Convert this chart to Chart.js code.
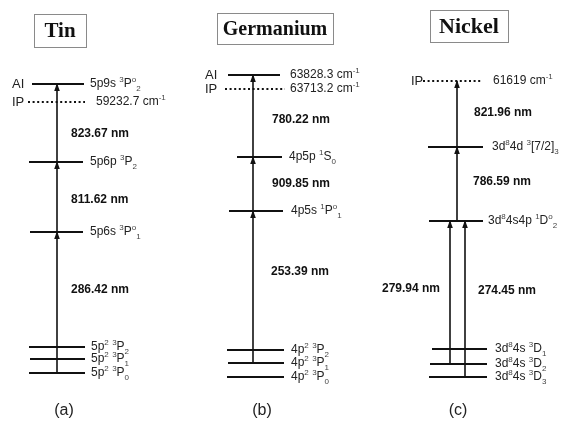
<!DOCTYPE html>
<html>
<head>
<meta charset="utf-8">
<script src="https://cdn.jsdelivr.net/npm/chart.js@4/dist/chart.umd.min.js"></script>
<style>
  html, body { margin: 0; padding: 0; background: #fff; }
  canvas { display: block; }
</style>
</head>
<body>
<canvas id="diagram" width="561" height="422"></canvas>
<script>
// ---- Energy level data (schematic heights, ground states near 0) ----
// Markup: ^{..} superscript, _{..} subscript
const tinLevels   = ['5p^{2} ^{3}P_{0}', '5p^{2} ^{3}P_{1}', '5p^{2} ^{3}P_{2}', '5p6s ^{3}P^{o}_{1}', '5p6p ^{3}P_{2}', '59232.7 cm^{-1}', '5p9s ^{3}P^{o}_{2}'];
const tinHeights  = [4, 18, 30, 145, 215, 275, 293];
const tinTags     = ['', '', '', '', '', 'IP', 'AI'];
const tinTransitions = [[0, 3], [3, 4], [4, 6]];
const tinWavelengths = [286.42, 811.62, 823.67];

const geLevels    = ['4p^{2} ^{3}P_{0}', '4p^{2} ^{3}P_{1}', '4p^{2} ^{3}P_{2}', '4p5s ^{1}P^{o}_{1}', '4p5p ^{1}S_{0}', '63713.2 cm^{-1}', '63828.3 cm^{-1}'];
const geHeights   = [0, 14, 27, 166, 220, 288, 302];
const geTags      = ['', '', '', '', '', 'IP', 'AI'];
const geTransitions = [[1, 3], [3, 4], [4, 6]];
const geWavelengths = [253.39, 909.85, 780.22];

const niLevels    = ['3d^{8}4s ^{3}D_{3}', '3d^{8}4s ^{3}D_{2}', '3d^{8}4s ^{3}D_{1}', '3d^{8}4s4p ^{1}D^{o}_{2}', '3d^{8}4d ^{3}[7/2]_{3}', '61619 cm^{-1}'];
const niHeights   = [0, 13, 28, 156, 230, 296];
const niTags      = ['', '', '', '', '', 'IP'];
const niTransitions = [[1, 3], [0, 3], [3, 4], [4, 5]];
const niWavelengths = [279.94, 274.45, 786.59, 821.96];

const elementNames = ['Tin', 'Germanium', 'Nickel'];
const panelLetters = ['(a)', '(b)', '(c)'];

// ---- Layout of each panel (diagram x units, label anchors) ----
const layouts = [
  {
    span: [[29, 85], [30, 85], [29, 85], [30, 83], [29, 83], [28, 85], [32, 84]],
    labelX: [91, 91, 91, 90, 90, 96, 90],
    tagX: 12,
    arrowX: [57, 57, 57],
    nmAt: [[71, 87, 'left'], [71, 177, 'left'], [71, 243, 'left']],
    title: { x: 60, y: 346.5, w: 52, h: 33, size: 21 },
    letter: { x: 64, y: -34 }
  },
  {
    span: [[227, 284], [228, 284], [227, 284], [229, 283], [237, 282], [225, 285], [228, 280]],
    labelX: [291, 291, 291, 291, 289, 290, 290],
    tagX: 205,
    arrowX: [253, 253, 253],
    nmAt: [[271, 105, 'left'], [272, 193, 'left'], [272, 257, 'left']],
    title: { x: 275, y: 348.5, w: 116, h: 31, size: 20 },
    letter: { x: 262, y: -34 }
  },
  {
    span: [[429, 487], [430, 487], [432, 487], [429, 483], [428, 483], [423, 482]],
    labelX: [495, 495, 495, 488, 492, 493],
    tagX: 411,
    arrowX: [450, 465, 457, 457],
    nmAt: [[440, 88, 'right'], [478, 86, 'left'], [473, 195, 'left'], [474, 264, 'left']],
    title: { x: 469, y: 351, w: 78, h: 32, size: 22 },
    letter: { x: 458, y: -34 }
  }
];

const panels = [
  { levels: tinLevels, heights: tinHeights, tags: tinTags, transitions: tinTransitions, wavelengths: tinWavelengths },
  { levels: geLevels,  heights: geHeights,  tags: geTags,  transitions: geTransitions,  wavelengths: geWavelengths },
  { levels: niLevels,  heights: niHeights,  tags: niTags,  transitions: niTransitions,  wavelengths: niWavelengths }
];

const INK = '#111';
const SANS = '"Liberation Sans", Arial, Helvetica, sans-serif';
const SERIF = '"Liberation Serif", "Times New Roman", serif';

// ---- Build datasets: level bars and transition shafts ----
const datasets = [];
panels.forEach((p, pi) => {
  const L = layouts[pi];
  p.heights.forEach((h, li) => {
    const dotted = p.tags[li] === 'IP';
    datasets.push({
      data: [{ x: L.span[li][0], y: h }, { x: L.span[li][1], y: h }],
      borderColor: INK,
      borderWidth: 2,
      borderDash: dotted ? [2, 2.6] : [],
      borderCapStyle: 'butt',
      pointRadius: 0,
      showLine: true,
      fill: false
    });
  });
  p.transitions.forEach((t, ti) => {
    datasets.push({
      data: [{ x: L.arrowX[ti], y: p.heights[t[0]] }, { x: L.arrowX[ti], y: p.heights[t[1]] }],
      borderColor: INK,
      borderWidth: 1.6,
      pointRadius: 0,
      showLine: true,
      fill: false
    });
  });
});

// ---- Rich text with super/subscripts ----
function parseRich(str) {
  const parts = [];
  let i = 0;
  while (i < str.length) {
    if ((str[i] === '^' || str[i] === '_') && str[i + 1] === '{') {
      const end = str.indexOf('}', i);
      parts.push({ t: str.slice(i + 2, end), m: str[i] });
      i = end + 1;
    } else {
      let j = i;
      while (j < str.length && !((str[j] === '^' || str[j] === '_') && str[j + 1] === '{')) j++;
      parts.push({ t: str.slice(i, j), m: '' });
      i = j;
    }
  }
  return parts;
}

function drawRich(ctx, str, x, y, size, align, weight) {
  const parts = parseRich(str);
  const small = Math.round(size * 0.66);
  const fontFor = m => `${weight || 'normal'} ${m ? small : size}px ${SANS}`;
  let total = 0;
  parts.forEach(pt => { ctx.font = fontFor(pt.m); pt.w = ctx.measureText(pt.t).width; total += pt.w; });
  let cx = align === 'right' ? x - total : align === 'center' ? x - total / 2 : x;
  ctx.textAlign = 'left';
  ctx.textBaseline = 'middle';
  parts.forEach(pt => {
    ctx.font = fontFor(pt.m);
    let dy = 0;
    if (pt.m === '^') dy = -size * 0.32;
    if (pt.m === '_') dy = size * 0.36;
    ctx.fillStyle = pt.m ? '#444' : '#222';
    ctx.fillText(pt.t, cx, y + dy);
    cx += pt.w;
  });
}

// ---- Annotations: arrowheads, labels, titles ----
const annotations = {
  id: 'levelAnnotations',
  afterDatasetsDraw(chart) {
    const ctx = chart.ctx;
    const xs = chart.scales.x, ys = chart.scales.y;
    const px = v => xs.getPixelForValue(v);
    const py = v => ys.getPixelForValue(v);
    ctx.save();
    panels.forEach((p, pi) => {
      const L = layouts[pi];
      // arrowheads at the upper level of every transition
      p.transitions.forEach((t, ti) => {
        const ax = px(L.arrowX[ti]);
        const tip = py(p.heights[t[1]]) - 1;
        ctx.fillStyle = INK;
        ctx.beginPath();
        ctx.moveTo(ax, tip);
        ctx.lineTo(ax - 2.8, tip + 8);
        ctx.lineTo(ax + 2.8, tip + 8);
        ctx.closePath();
        ctx.fill();
      });
      // level labels and left-hand tags
      p.levels.forEach((lab, li) => {
        const y = py(p.heights[li]);
        drawRich(ctx, lab, px(L.labelX[li]), y, 12, 'left');
        if (p.tags[li]) {
          ctx.font = `13px ${SANS}`;
          ctx.fillStyle = '#222';
          ctx.textAlign = 'left';
          ctx.textBaseline = 'middle';
          ctx.fillText(p.tags[li], px(L.tagX), y);
        }
      });
      // wavelength labels
      p.wavelengths.forEach((w, wi) => {
        const a = L.nmAt[wi];
        ctx.font = `bold 12px ${SANS}`;
        ctx.fillStyle = INK;
        ctx.textAlign = a[2];
        ctx.textBaseline = 'middle';
        ctx.fillText(w.toFixed(2) + ' nm', px(a[0]), py(a[1]));
      });
      // boxed element title
      const T = L.title;
      const cx = px(T.x), cy = py(T.y);
      ctx.strokeStyle = '#8a8a8a';
      ctx.lineWidth = 1;
      ctx.strokeRect(Math.round(cx - T.w / 2) + 0.5, Math.round(cy - T.h / 2) + 0.5, T.w, T.h);
      ctx.font = `bold ${T.size}px ${SERIF}`;
      ctx.fillStyle = INK;
      ctx.textAlign = 'center';
      ctx.textBaseline = 'middle';
      ctx.fillText(elementNames[pi], cx, cy + 1);
      // panel letter
      ctx.font = `16px ${SANS}`;
      ctx.fillStyle = '#222';
      ctx.fillText(panelLetters[pi], px(L.letter.x), py(L.letter.y));
    });
    ctx.restore();
  }
};

new Chart(document.getElementById('diagram'), {
  type: 'scatter',
  data: { datasets },
  options: {
    responsive: false,
    animation: false,
    devicePixelRatio: 1,
    layout: { padding: 0 },
    plugins: { legend: { display: false }, tooltip: { enabled: false } },
    scales: {
      x: { type: 'linear', min: 0, max: 561, display: false },
      y: { type: 'linear', min: -45, max: 377, display: false }
    }
  },
  plugins: [annotations]
});
</script>
</body>
</html>
